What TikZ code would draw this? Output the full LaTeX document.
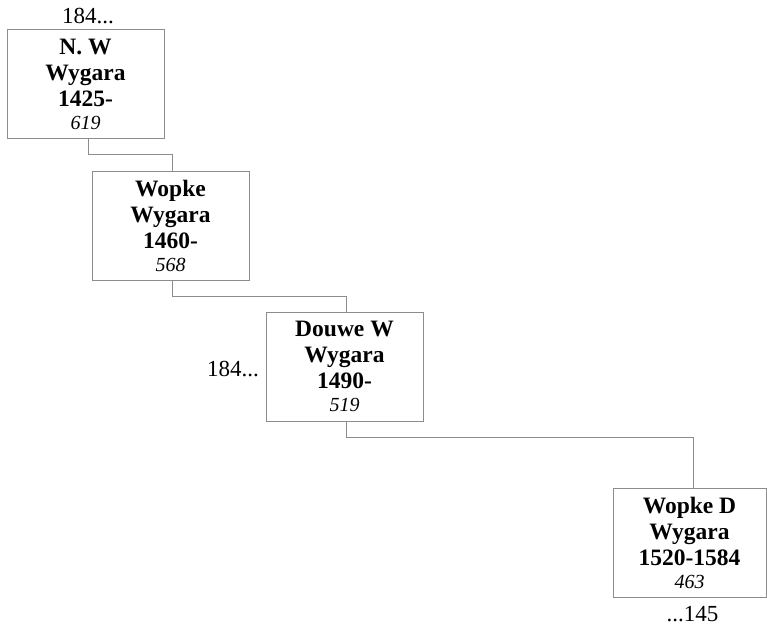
\documentclass[tikz,border=0pt]{standalone}
\usepackage{fontspec}
\setmainfont{Liberation Serif}
\usetikzlibrary{positioning}
\definecolor{treeGris}{HTML}{8C8C8C}

\begin{document}
\begin{tikzpicture}[x=1pt,y=-1pt,
    persona/.style={draw=treeGris, line width=1pt, minimum width=157pt,
      minimum height=109pt, inner sep=0pt, align=center,
      font=\fontsize{23.5}{26}\selectfont\bfseries},
    enlace/.style={draw=treeGris, line width=1pt},
    mas/.style={inner sep=0pt, font=\fontsize{23}{26}\selectfont}]
  \useasboundingbox (0,0) rectangle (767,628);
  % generaciones
  \node[persona] (nw) at (85.5,84)
    {N. W\\Wygara\\1425-\\[-3pt]{\fontsize{20}{24}\selectfont\mdseries\itshape 619}};
  \node[persona] (wopke) at (170.5,226)
    {Wopke\\Wygara\\1460-\\[-3pt]{\fontsize{20}{24}\selectfont\mdseries\itshape 568}};
  \node[persona] (douwe) at (344.5,366.5)
    {Douwe W\\Wygara\\1490-\\[-3pt]{\fontsize{20}{24}\selectfont\mdseries\itshape 519}};
  \node[persona, minimum width=153pt] (wopked) at (689.5,542.5)
    {Wopke D\\Wygara\\1520-1584\\[-3pt]{\fontsize{20}{24}\selectfont\mdseries\itshape 463}};
  % mas antepasados / descendientes
  \node[mas, above=5pt of nw, xshift=2.5pt] (nwmas) {184...};
  \node[mas, left=6.5pt of douwe, yshift=-2.5pt] (douwemas) {184...};
  \node[mas, below=9pt of wopked, xshift=3pt] (wopkedmas) {...145};
  % enlaces
  \draw[enlace] ([xshift=2.5pt]nw.south) -- ++(0,16) -| ([xshift=1.5pt]wopke.north);
  \draw[enlace] ([xshift=1.5pt]wopke.south) -- ++(0,15) -| ([xshift=1.5pt]douwe.north);
  \draw[enlace] ([xshift=1.5pt]douwe.south) -- ++(0,16) -| ([xshift=3.5pt]wopked.north);
\end{tikzpicture}
\end{document}
